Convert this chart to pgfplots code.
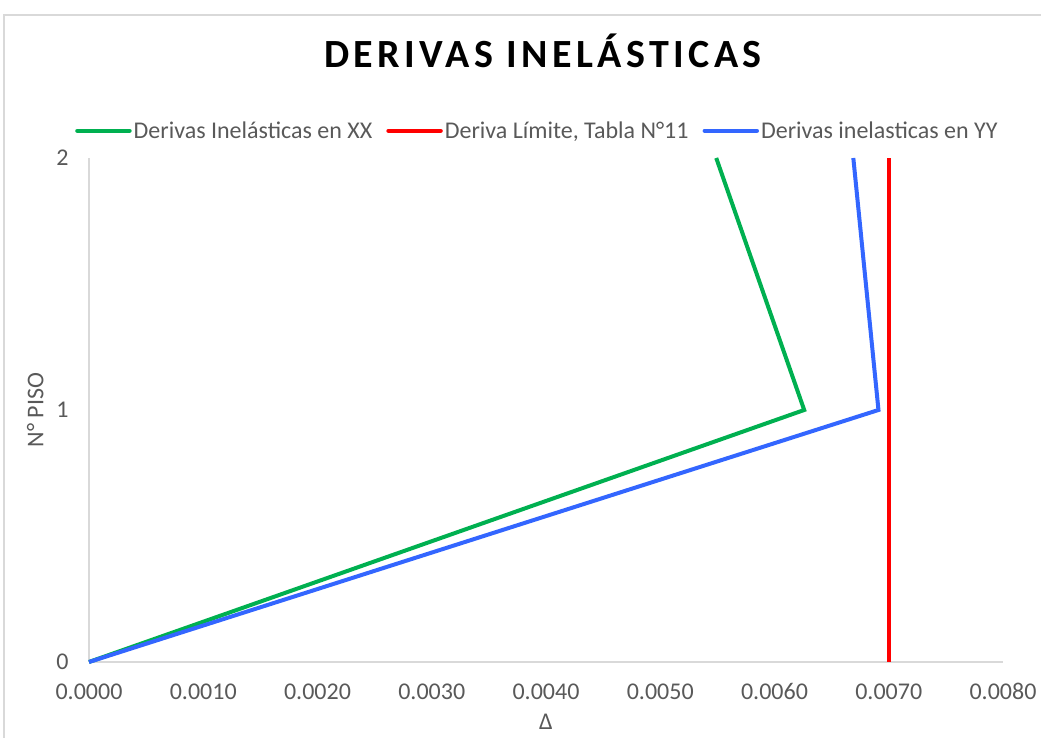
\documentclass[border=0pt]{standalone}
\usepackage{fontspec}
\setmainfont{Carlito}
\usepackage{pgfplots}
\pgfplotsset{compat=1.18}
\definecolor{txt}{HTML}{595959}
\definecolor{axl}{HTML}{D9D9D9}
\definecolor{cgreen}{HTML}{00B050}
\definecolor{cred}{HTML}{FF0000}
\definecolor{cblue}{HTML}{3366FF}
\begin{document}
\begin{tikzpicture}
\path[use as bounding box] (0pt,0pt) rectangle (1041pt,738pt);
\draw[axl,line width=1.2pt] (4pt,0pt) -- (4pt,723pt) -- (1041pt,723pt);
\node[anchor=base, inner sep=0pt, font={\fontsize{40}{44}\selectfont\bfseries\addfontfeatures{LetterSpace=11}}] at (543pt,670pt) {DERIVAS INELÁSTICAS};
\begin{axis}[
  at={(89pt,76pt)}, anchor=south west,
  scale only axis, width=914pt, height=504pt,
  xmin=0, xmax=0.008, ymin=0, ymax=2,
  xtick={0,0.001,...,0.008},
  ytick={0,1,2},
  x tick label style={/pgf/number format/.cd,fixed,fixed zerofill,precision=4,/tikz/.cd},
  scaled x ticks=false,
  /pgf/number format/assume math mode=true,
  ticklabel style={font=\fontsize{24}{28}\selectfont, text=txt},
  xticklabel style={yshift=-18pt},
  yticklabel style={xshift=-17pt},
  tick style={draw=none},
  axis line style={draw=axl, line width=1.2pt},
  axis x line*=bottom, axis y line*=left,
  xlabel={Δ}, ylabel={N° PISO},
  label style={font=\fontsize{24}{28}\selectfont, text=txt},
  xlabel style={yshift=-7pt},
  ylabel style={yshift=6pt},
  legend columns=3,
  legend style={draw=none, fill=none, at={(-0.0153,1.054)}, anchor=west,
    font=\fontsize{24}{28}\selectfont, text=txt, inner sep=0pt,
    /tikz/every even column/.append style={column sep=12pt}},
  legend image code/.code={\draw[#1, line width=4.5pt, line cap=round] (0pt,0pt) -- (52pt,0pt);},
  clip=false,
]
\addplot[cgreen, line width=4pt] coordinates {(0,0) (0.00626,1) (0.00549,2)};
\addlegendentry{Derivas Inelásticas en XX}
\addplot[cred, line width=4pt] coordinates {(0.0070,0) (0.0070,2)};
\addlegendentry{Deriva Límite, Tabla N°11}
\addplot[cblue, line width=4pt] coordinates {(0,0) (0.00691,1) (0.00669,2)};
\addlegendentry{Derivas inelasticas en YY}
\end{axis}
\end{tikzpicture}
\end{document}
